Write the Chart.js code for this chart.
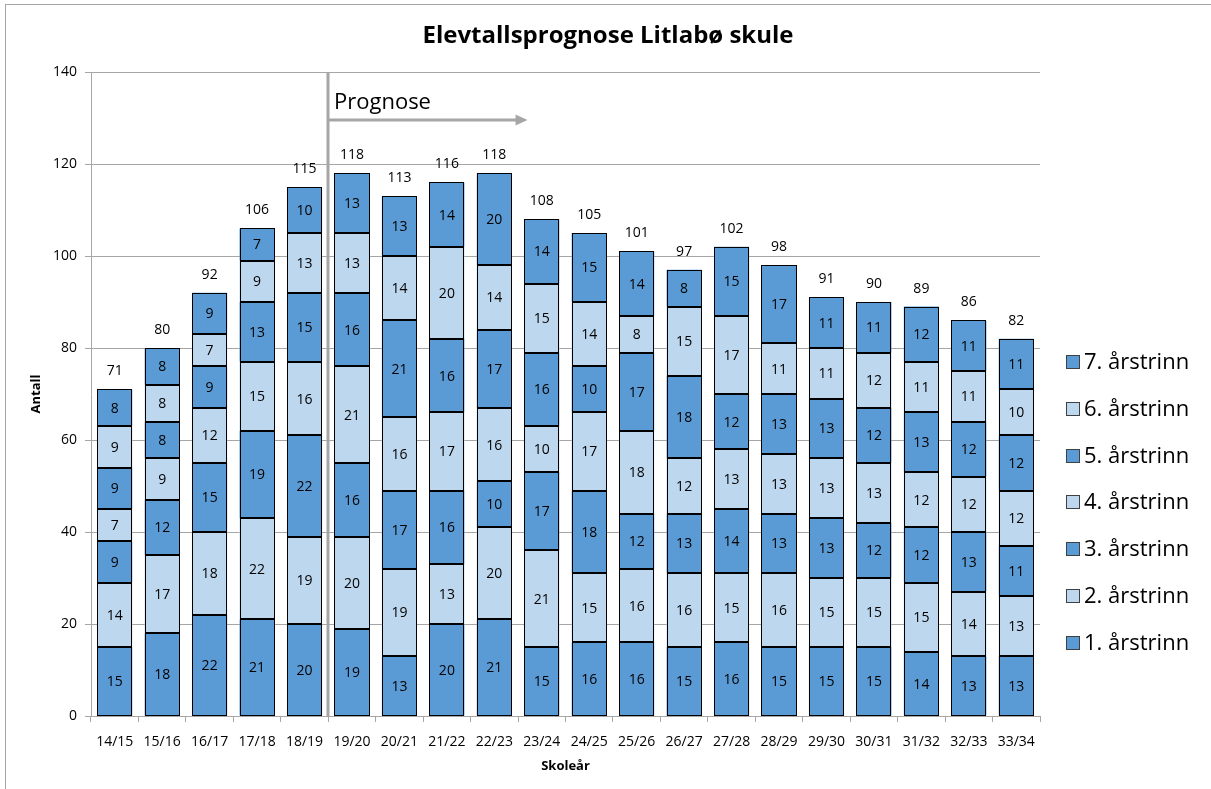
<!DOCTYPE html>
<html>
<head>
<meta charset="utf-8">
<script src="https://cdn.jsdelivr.net/npm/chart.js@4.4.0/dist/chart.umd.min.js"></script>
<style>
    html, body { margin: 0; padding: 0; background: #fff; }
    #wrap { width: 1211px; height: 789px; }
</style>
</head>
<body>
<div id="wrap"><canvas id="canvas" width="1211" height="789"></canvas></div>
<script>
var years = ['14/15', '15/16', '16/17', '17/18', '18/19', '19/20', '20/21', '21/22', '22/23', '23/24',
    '24/25', '25/26', '26/27', '27/28', '28/29', '29/30', '30/31', '31/32', '32/33', '33/34'];

var trinn1 = [15, 18, 22, 21, 20, 19, 13, 20, 21, 15, 16, 16, 15, 16, 15, 15, 15, 14, 13, 13];
var trinn2 = [14, 17, 18, 22, 19, 20, 19, 13, 20, 21, 15, 16, 16, 15, 16, 15, 15, 15, 14, 13];
var trinn3 = [9, 12, 15, 19, 22, 16, 17, 16, 10, 17, 18, 12, 13, 14, 13, 13, 12, 12, 13, 11];
var trinn4 = [7, 9, 12, 15, 16, 21, 16, 17, 16, 10, 17, 18, 12, 13, 13, 13, 13, 12, 12, 12];
var trinn5 = [9, 8, 9, 13, 15, 16, 21, 16, 17, 16, 10, 17, 18, 12, 13, 13, 12, 13, 12, 12];
var trinn6 = [9, 8, 7, 9, 13, 13, 14, 20, 14, 15, 14, 8, 15, 17, 11, 11, 12, 11, 11, 10];
var trinn7 = [8, 8, 9, 7, 10, 13, 13, 14, 20, 14, 15, 14, 8, 15, 17, 11, 11, 12, 11, 11];

var totals = [71, 80, 92, 106, 115, 118, 113, 116, 118, 108, 105, 101, 97, 102, 98, 91, 90, 89, 86, 82];

var yTicks = [0, 20, 40, 60, 80, 100, 120, 140];

var prognoseStart = 5;   // first forecast year (19/20)
var prognoseArrowEnd = 8.7;
var prognoseArrowValue = 129.5;

var darkBlue = '#5B9BD5';
var lightBlue = '#BDD7EE';
var FONT = '"Open Sans", Calibri, sans-serif';

function makeSet(label, values, color) {
    return {
        label: label,
        data: values,
        backgroundColor: color,
        borderWidth: 0,
        inflateAmount: 0,
        barPercentage: 0.74,
        categoryPercentage: 1.0
    };
}

var datasets = [
    makeSet('1. årstrinn', trinn1, darkBlue),
    makeSet('2. årstrinn', trinn2, lightBlue),
    makeSet('3. årstrinn', trinn3, darkBlue),
    makeSet('4. årstrinn', trinn4, lightBlue),
    makeSet('5. årstrinn', trinn5, darkBlue),
    makeSet('6. årstrinn', trinn6, lightBlue),
    makeSet('7. årstrinn', trinn7, darkBlue)
];

// outlines, labels inside segments, totals, prognose marker, legend, title, frame
var extrasPlugin = {
    id: 'extras',
    afterDatasetsDraw: function (chart) {
        var ctx = chart.ctx;
        var x = chart.scales.x;
        var y = chart.scales.y;
        var area = chart.chartArea;
        ctx.save();

        // crisp 1px outlines round every segment
        ctx.strokeStyle = '#000';
        ctx.lineWidth = 1;
        chart.data.datasets.forEach(function (ds, di) {
            var meta = chart.getDatasetMeta(di);
            meta.data.forEach(function (bar) {
                var l = Math.round(bar.x - bar.width / 2) + 0.5;
                var r = Math.round(bar.x + bar.width / 2) - 0.5;
                var t = Math.round(bar.y) + 0.5;
                var b = Math.round(bar.base) - 0.5;
                ctx.strokeRect(l, t, r - l, b - t);
            });
        });

        // values inside each segment
        ctx.fillStyle = '#000';
        ctx.font = '14px ' + FONT;
        ctx.textAlign = 'center';
        ctx.textBaseline = 'middle';
        chart.data.datasets.forEach(function (ds, di) {
            var meta = chart.getDatasetMeta(di);
            meta.data.forEach(function (bar, i) {
                var mid = (bar.y + bar.base) / 2;
                ctx.fillText(String(ds.data[i]), bar.x, mid + 1);
            });
        });

        // totals above bars
        ctx.textBaseline = 'alphabetic';
        totals.forEach(function (t, i) {
            ctx.fillText(String(t), x.getPixelForValue(i), y.getPixelForValue(t) - 14);
        });

        // prognose line
        var px = Math.round((x.getPixelForValue(prognoseStart - 1) + x.getPixelForValue(prognoseStart)) / 2);
        ctx.strokeStyle = '#A6A6A6';
        ctx.lineWidth = 3;
        ctx.beginPath();
        ctx.moveTo(px, area.top);
        ctx.lineTo(px, area.bottom);
        ctx.stroke();

        var ay = Math.round(y.getPixelForValue(prognoseArrowValue));
        var ax = x.getPixelForValue(prognoseArrowEnd);
        ctx.beginPath();
        ctx.moveTo(px, ay);
        ctx.lineTo(ax - 8, ay);
        ctx.stroke();
        ctx.fillStyle = '#A6A6A6';
        ctx.beginPath();
        ctx.moveTo(ax, ay);
        ctx.lineTo(ax - 12, ay - 5.5);
        ctx.lineTo(ax - 12, ay + 5.5);
        ctx.closePath();
        ctx.fill();

        ctx.fillStyle = '#000';
        ctx.font = '22px ' + FONT;
        ctx.textAlign = 'left';
        ctx.fillText('Prognose', px + 6, ay - 11);

        // legend, top entry is the last dataset
        ctx.font = '22px ' + FONT;
        ctx.textBaseline = 'middle';
        var n = chart.data.datasets.length;
        for (var k = 0; k < n; k++) {
            var ds = chart.data.datasets[n - 1 - k];
            var cy = Math.round(362 + k * 46.8);
            ctx.fillStyle = ds.backgroundColor;
            ctx.fillRect(1066, cy - 7, 14, 14);
            ctx.strokeStyle = '#404040';
            ctx.lineWidth = 1;
            ctx.strokeRect(1066.5, cy - 6.5, 13, 13);
            ctx.fillStyle = '#000';
            ctx.fillText(ds.label, 1084, cy + 1);
        }

        // title, centred on the whole picture
        ctx.font = 'bold 24px ' + FONT;
        ctx.textAlign = 'center';
        ctx.textBaseline = 'alphabetic';
        ctx.fillText('Elevtallsprognose Litlabø skule', 608, 43);

        // outer frame (only left and top edges fall inside the picture)
        ctx.strokeStyle = '#A6A6A6';
        ctx.lineWidth = 1;
        ctx.strokeRect(5.5, 4.5, 1300, 900);
        ctx.restore();
    }
};

var CHART = document.getElementById('canvas');
var barChart = new Chart(CHART, {
    type: 'bar',
    data: {
        labels: years,
        datasets: datasets
    },
    options: {
        responsive: false,
        animation: false,
        devicePixelRatio: 1,
        layout: {
            padding: {left: 10, right: 171, top: 72, bottom: 10}
        },
        plugins: {
            legend: {display: false},
            tooltip: {enabled: false},
            title: {display: false}
        },
        scales: {
            x: {
                stacked: true,
                grid: {
                    offset: true,
                    drawOnChartArea: false,
                    drawTicks: true,
                    tickLength: 6,
                    color: '#A6A6A6'
                },
                border: {color: '#A6A6A6', width: 1},
                ticks: {
                    color: '#000',
                    font: {family: FONT, size: 14},
                    maxRotation: 0,
                    padding: 12
                },
                title: {
                    display: true,
                    text: 'Skoleår',
                    color: '#000',
                    font: {family: FONT, size: 13, weight: 'bold'},
                    padding: {top: 2, bottom: 5}
                },
                afterFit: function (scale) { scale.height = 63; }
            },
            y: {
                stacked: true,
                min: 0,
                max: 140,
                afterBuildTicks: function (scale) {
                    scale.ticks = yTicks.map(function (v) { return {value: v}; });
                },
                grid: {
                    color: '#A6A6A6',
                    tickLength: 6
                },
                border: {color: '#A6A6A6', width: 1},
                ticks: {
                    color: '#000',
                    font: {family: FONT, size: 14},
                    padding: 8
                },
                title: {
                    display: true,
                    text: 'Antall',
                    color: '#000',
                    font: {family: FONT, size: 13, weight: 'bold'},
                    padding: {top: 18, bottom: 4}
                },
                afterFit: function (scale) { scale.width = 81; }
            }
        }
    },
    plugins: [extrasPlugin]
});
</script>
</body>
</html>
